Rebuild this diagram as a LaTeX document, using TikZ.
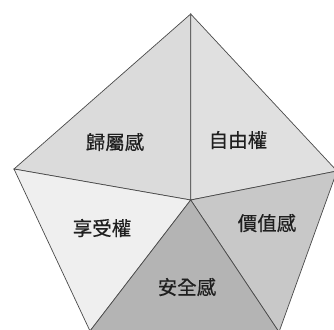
\documentclass[tikz,border=0pt]{standalone}
\usepackage{fontspec}
\newfontfamily\cjk[FakeBold=0.4]{Noto Sans CJK TC}
\definecolor{cTL}{HTML}{DBDBDB}
\definecolor{cTR}{HTML}{E0E0E0}
\definecolor{cL}{HTML}{EFEFEF}
\definecolor{cR}{HTML}{C8C8C8}
\definecolor{cB}{HTML}{B4B4B4}
\definecolor{edge}{HTML}{4A4A4A}
\tikzset{
  sector/.style={draw=edge, line width=0.7pt, line join=miter},
  lbl/.style={font=\cjk\fontsize{19.5}{19.5}\selectfont, text=black!88, inner sep=0pt}
}
\begin{document}
\begin{tikzpicture}[x=1pt,y=-1pt]
\useasboundingbox (0,0) rectangle (334,329);
\fill[white] (0,0) rectangle (334,329);
\clip (0,0) rectangle (334,329);
\coordinate (T) at (190.7,14);
\coordinate (C) at (190.7,200);
\coordinate (L) at (14,169);
\coordinate (R) at (337,171);
\coordinate (BL) at (90,331);
\coordinate (BR) at (279,332);
\filldraw[sector, fill=cTL] (C) -- (T) -- (L) -- cycle;
\filldraw[sector, fill=cTR] (C) -- (T) -- (R) -- cycle;
\filldraw[sector, fill=cL] (C) -- (L) -- (BL) -- cycle;
\filldraw[sector, fill=cR] (C) -- (R) -- (BR) -- cycle;
\filldraw[sector, fill=cB] (C) -- (BL) -- (BR) -- cycle;
\node[lbl] (n1) at (115,142) {歸屬感};
\node[lbl] (n2) at (238,140) {自由權};
\node[lbl] (n3) at (102,228) {享受權};
\node[lbl] (n4) at (267,223) {價值感};
\node[lbl] (n5) at (187,287) {安全感};
\end{tikzpicture}
\end{document}
